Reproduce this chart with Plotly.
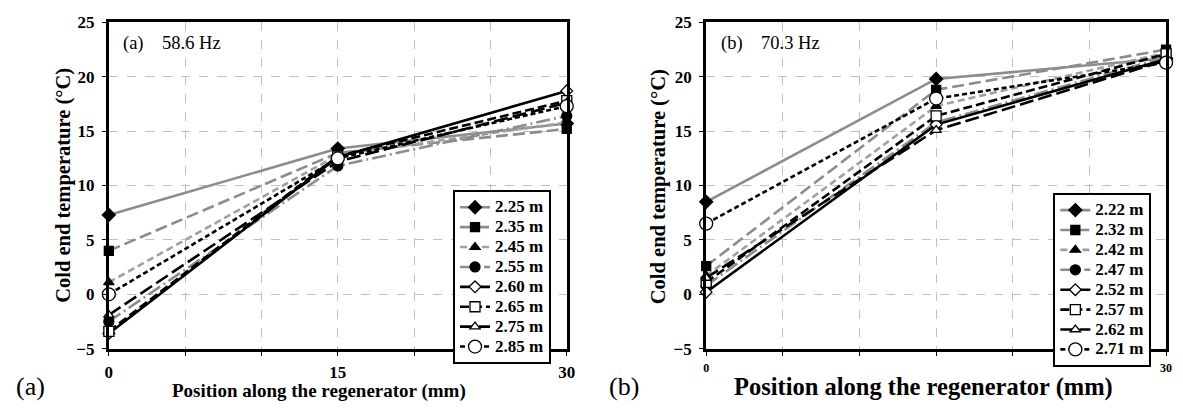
import plotly.graph_objects as go

# Position along the regenerator (mm)
positions = [0, 15, 30]

# (a) 58.6 Hz
labels_a = ["2.25 m", "2.35 m", "2.45 m", "2.55 m", "2.60 m", "2.65 m", "2.75 m", "2.85 m"]
temps_a = [
    [7.3, 13.4, 15.7],
    [4.0, 13.0, 15.2],
    [1.1, 12.8, 15.8],
    [-2.5, 11.8, 16.4],
    [-3.6, 12.6, 18.7],
    [-3.4, 12.7, 17.8],
    [-1.9, 12.2, 17.6],
    [0.0, 12.5, 17.3],
]

# (b) 70.3 Hz
labels_b = ["2.22 m", "2.32 m", "2.42 m", "2.47 m", "2.52 m", "2.57 m", "2.62 m", "2.71 m"]
temps_b = [
    [8.5, 19.8, 21.7],
    [2.6, 18.8, 22.5],
    [1.7, 17.3, 22.2],
    [0.8, 15.8, 21.8],
    [0.2, 15.6, 21.6],
    [1.1, 16.4, 22.1],
    [1.5, 15.1, 21.5],
    [6.5, 18.0, 21.3],
]

# x tick labels (gridlines every 5 mm)
grid_x = [0, 5, 10, 15, 20, 25, 30]
ticks_a = ["0", "", "", "15", "", "", "30"]
ticks_b = ["0", "", "", "", "", "", "30"]

GRAY = "#8c8c8c"
LGRAY = "#a0a0a0"
# line colour, dash, marker symbol, marker fill, marker size
styles = [
    (GRAY, "solid", "diamond", "black", 10),
    (GRAY, "12px,5px", "square", "black", 9),
    (LGRAY, "7px,4px", "triangle-up", "black", 9),
    (GRAY, "14px,4px,2px,4px", "circle", "black", 10),
    ("black", "solid", "diamond", "white", 9),
    ("black", "9px,4px", "square", "white", 10),
    ("black", "14px,5px", "triangle-up", "white", 9),
    ("black", "5px,3px", "circle", "white", 13),
]

SERIF = "Liberation Serif"
fig = go.Figure()

for labels, temps, xa, ya, lg in [
    (labels_a, temps_a, "x", "y", "legend"),
    (labels_b, temps_b, "x2", "y2", "legend2"),
]:
    for name, vals, (lc, dash, sym, fill, ms) in zip(labels, temps, styles):
        fig.add_trace(go.Scatter(
            x=positions, y=vals, xaxis=xa, yaxis=ya, legend=lg,
            name=f"<span style='font-size:17px'>{name}</span>",
            hovertemplate=f"{name}<br>%{{x}} mm: %{{y}} °C<extra></extra>",
            mode="lines+markers", cliponaxis=False,
            line=dict(color=lc, width=2.6, dash=dash),
            marker=dict(symbol=sym, size=ms, color=fill,
                        line=dict(color="black", width=1.3)),
        ))

def xaxis(domain, anchor, tick_text, tick_size):
    return dict(
        domain=domain, anchor=anchor, range=[0, 30],
        tickvals=grid_x, ticktext=tick_text,
        tickfont=dict(family=SERIF, size=tick_size, color="black", weight="bold"),
        ticklabelstandoff=2,
        showgrid=True, gridcolor="#c0c0c0", gridwidth=1, griddash="dash",
        showline=True, linecolor="black", linewidth=3, mirror=True,
        ticks="outside", ticklen=4, tickcolor="black", zeroline=False,
    )

def yaxis(anchor):
    return dict(
        domain=[1 - 356 / 415, 1 - 14 / 415], anchor=anchor, range=[-5, 25],
        tickvals=list(range(-5, 26, 5)),
        tickfont=dict(family=SERIF, size=17, color="black", weight="bold"),
        ticklabelstandoff=4,
        showgrid=True, gridcolor="#c0c0c0", gridwidth=1, griddash="dash",
        showline=True, linecolor="black", linewidth=3, mirror=True,
        ticks="outside", ticklen=4, tickcolor="black", zeroline=False,
    )

# row height follows the legend font size; the entry text itself is set larger
legend_common = dict(
    bgcolor="white", bordercolor="black", borderwidth=2,
    font=dict(family=SERIF, size=13, color="black", weight="bold"),
    xanchor="left", yanchor="top", tracegroupgap=0, itemwidth=30,
)

fig.update_layout(
    width=1183, height=415,
    margin=dict(l=0, r=0, t=0, b=0),
    paper_bgcolor="white", plot_bgcolor="white",
    xaxis=xaxis([106 / 1183, 569 / 1183], "y", ticks_a, 17),
    yaxis=yaxis("x"),
    xaxis2=xaxis([710 / 1183, 1175 / 1183], "y2", ticks_b, 12),
    yaxis2=yaxis("x2"),
    legend=dict(x=454 / 1183, y=1 - 190 / 415, **legend_common),
    legend2=dict(x=1061 / 1183, y=1 - 193 / 415, **legend_common),
    showlegend=True,
)

def note(text, x, y, size, bold=False, angle=0, xanchor="center"):
    fig.add_annotation(
        text=text, x=x / 1183, y=1 - y / 415, xref="paper", yref="paper",
        showarrow=False, textangle=angle, xanchor=xanchor, yanchor="middle",
        font=dict(family=SERIF, size=size, color="black",
                  weight="bold" if bold else "normal"),
    )

# axis titles
note("Cold end temperature (°C)", 60, 185, 20.5, bold=True, angle=-90)
note("Cold end temperature (°C)", 662, 186, 20.5, bold=True, angle=-90)
note("Position along the regenerator (mm)", 318, 400, 19, bold=True)
note("Position along the regenerator (mm)", 930, 396, 24.5, bold=True)

# panel tags
note("(a)&nbsp;&nbsp;&nbsp;&nbsp;58.6 Hz", 118, 36, 18.5, xanchor="left")
note("(b)&nbsp;&nbsp;&nbsp;&nbsp;70.3 Hz", 723, 36, 18.5, xanchor="left")
note("(a)", 27, 396, 26)
note("(b)", 627, 396, 26)

fig.write_html("out.html")
